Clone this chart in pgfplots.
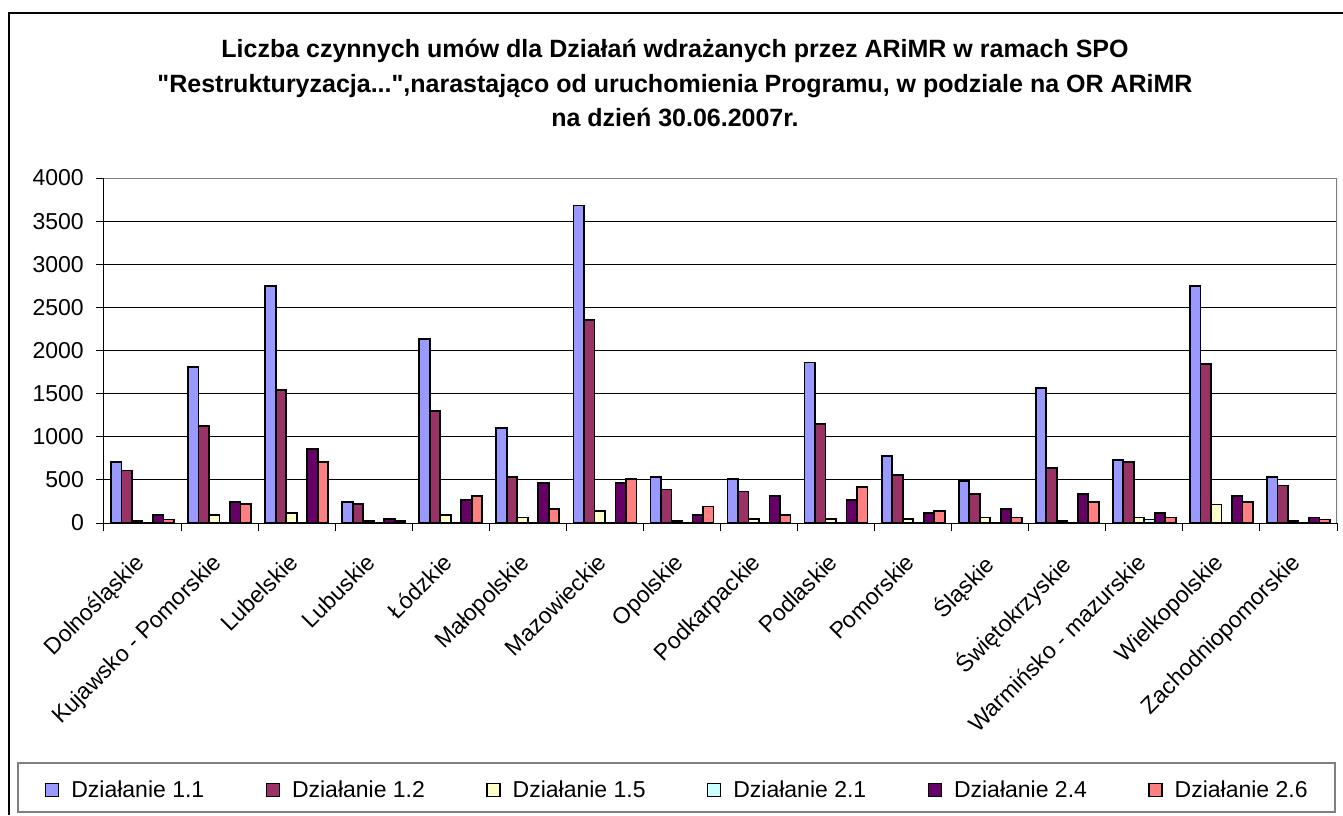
\documentclass[border=0pt]{standalone}
\usepackage{fontspec}
\setmainfont{Liberation Sans}
\newfontfamily\titlefont{Liberation Sans}[Ligatures=TeXOff]
\usepackage{pgfplots}
\pgfplotsset{compat=1.18}
\usepackage{pgfplotstable}
\definecolor{cA}{HTML}{9999FF}
\definecolor{cB}{HTML}{993366}
\definecolor{cC}{HTML}{FFFFCC}
\definecolor{cD}{HTML}{CCFFFF}
\definecolor{cE}{HTML}{660066}
\definecolor{cF}{HTML}{FF8080}
\definecolor{frameg}{HTML}{808080}
\pgfplotstableread{
x a b c d e f
0 710 610 20 0 95 40
1 1810 1125 95 0 240 220
2 2750 1545 115 0 860 710
3 240 220 20 0 45 20
4 2135 1300 95 0 265 315
5 1100 535 65 0 460 165
6 3680 2355 140 0 465 510
7 535 390 20 0 95 190
8 510 365 45 0 315 90
9 1860 1150 45 0 265 415
10 780 560 45 0 115 140
11 485 340 65 0 165 65
12 1565 635 20 0 340 240
13 730 705 65 40 115 65
14 2750 1840 215 0 315 240
15 535 435 20 0 65 40
}\data
\begin{document}
\begin{tikzpicture}
\useasboundingbox (0pt,0pt) rectangle (1343pt,-815pt);
\draw[black, line width=1.2pt] (9pt,-815pt) -- (9pt,-13pt) -- (1343pt,-13pt);
\node[font=\titlefont\fontsize{25}{34.5}\selectfont\bfseries, align=center] at (675pt,-83pt)
 {Liczba czynnych umów dla Działań wdrażanych przez ARiMR w ramach SPO\\"Restrukturyzacja...",narastająco od uruchomienia Programu, w podziale na OR ARiMR\\na dzień 30.06.2007r.};
\draw[frameg, line width=1.5pt] (18pt,-763pt) rectangle (1335pt,-812pt);
\begin{axis}[
 at={(104pt,-523pt)}, anchor=south west,
 scale only axis, width=1233pt, height=345pt,
 xmin=-0.5, xmax=15.5, ymin=0, ymax=4000,
 ybar=0pt, bar width=10.5pt,
 axis x line*=bottom, axis y line*=left,
 axis line style={black, line width=1pt},
 ytick={0,500,...,4000},
 ymajorgrids, grid style={black, line width=0.9pt},
 tick align=outside, major tick length=8pt, minor tick length=8pt,
 tick style={black, line width=1pt},
 xtick={0,...,15},
 major x tick style={draw=none},
 minor xtick={-0.5,0.5,...,15.5},
 xticklabels={Dolnośląskie, Kujawsko - Pomorskie, Lubelskie, Lubuskie, Łódzkie, Małopolskie, Mazowieckie, Opolskie, Podkarpackie, Podlaskie, Pomorskie, Śląskie, Świętokrzyskie, Warmińsko - mazurskie, Wielkopolskie, Zachodniopomorskie},
 xticklabel style={xshift=-9pt, yshift=-21pt, rotate=45, anchor=north east, inner sep=0pt, font=\fontsize{23}{27}\selectfont},
 yticklabel style={anchor=east, inner sep=0pt, xshift=-12pt, font=\fontsize{23}{27}\selectfont},
 /pgf/number format/assume math mode=true,
 /pgf/number format/1000 sep={},
 scaled y ticks=false,
 every axis plot/.append style={draw=black, line width=1.7pt},
 legend columns=6,
 legend style={draw=none, fill=none, at={(-0.0479,-0.7739)}, anchor=west, inner sep=0pt,
   font=\fontsize{23}{27}\selectfont,
   /tikz/every odd column/.append style={column sep=10pt},
   /tikz/every even column/.append style={column sep=59.5pt}},
 legend image code/.code={\draw[#1,line width=1.2pt] (0pt,-6.5pt) rectangle (13pt,6.5pt);},
]
\addplot[fill=cA] table[x=x,y=a]{\data};
\addplot[fill=cB] table[x=x,y=b]{\data};
\addplot[fill=cC] table[x=x,y=c]{\data};
\addplot[fill=cD] table[x=x,y=d]{\data};
\addplot[fill=cE] table[x=x,y=e]{\data};
\addplot[fill=cF] table[x=x,y=f]{\data};
\legend{Działanie 1.1, Działanie 1.2, Działanie 1.5, Działanie 2.1, Działanie 2.4, Działanie 2.6}
\draw[frameg, line width=1.5pt] (rel axis cs:0,1) -- (rel axis cs:1,1) -- (rel axis cs:1,0);
\end{axis}
\end{tikzpicture}
\end{document}
